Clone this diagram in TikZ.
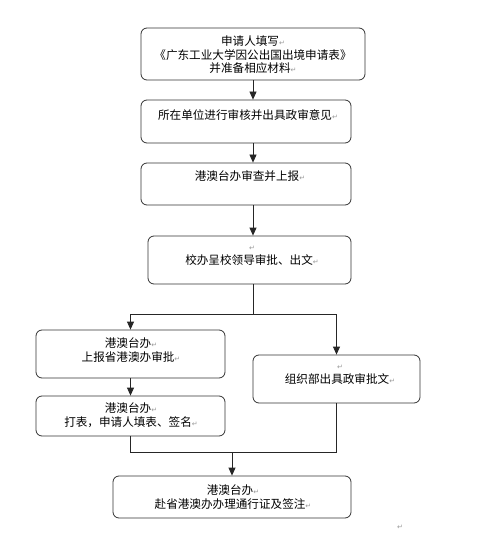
\documentclass[tikz,border=0pt]{standalone}
\usepackage{fontspec}
\newfontfamily\cjk{Noto Sans CJK SC}
\newfontfamily\symfont{DejaVu Sans}
\usetikzlibrary{arrows.meta}
\newcommand\ret{{\symfont\color{black!40}\fontsize{7}{8}\selectfont ↵}}
\begin{document}
\begin{tikzpicture}[x=1pt,y=1pt,
  box/.style={draw=black!80, rounded corners=6pt, line width=0.8pt, inner sep=0pt},
  txt/.style={font=\cjk\fontsize{11.6}{13.5}\selectfont, align=center, inner sep=0pt},
  arr/.style={-{Triangle[length=8pt,width=7pt]}, line width=0.8pt, draw=black!85},
  ln/.style={line width=0.8pt, draw=black!85}]
\path[use as bounding box, fill=white] (0,0) rectangle (479,-534);
% boxes
\node[box, minimum width=224pt, minimum height=52pt] (b1) at (253,-54) {};
\node[box, minimum width=210pt, minimum height=43pt] (b2) at (246,-121.5) {};
\node[box, minimum width=210pt, minimum height=42pt] (b3) at (246,-184) {};
\node[box, minimum width=203pt, minimum height=48pt] (b4) at (249.5,-260) {};
\node[box, minimum width=189pt, minimum height=48pt] (b5) at (130.5,-354) {};
\node[box, minimum width=167pt, minimum height=48pt] (b6) at (336.5,-379) {};
\node[box, minimum width=189pt, minimum height=40pt] (b7) at (130.5,-416) {};
\node[box, minimum width=238pt, minimum height=42pt] (b8) at (232,-497) {};
% texts
\node[txt] (t1) at (253,-55) {申请人填写\ret\\《广东工业大学因公出国出境申请表》\\并准备相应材料\ret};
\node[txt] (t2) at (248,-115) {所在单位进行审核并出具政审意见\ret};
\node[txt] (t3) at (250,-176) {港澳台办审查并上报\ret};
\node[txt] (t4) at (252,-256) {\ret\\校办呈校领导审批、出文\ret};
\node[txt] (t5) at (131,-350) {港澳台办\ret\\上报省港澳办审批\ret};
\node[txt] (t6) at (340,-375) {\ret\\组织部出具政审批文\ret};
\node[txt] (t7) at (131,-415) {港澳台办\ret\\打表，申请人填表、签名\ret};
\node[txt] (t8) at (233,-497) {港澳台办\ret\\赴省港澳办办理通行证及签注\ret};
\node[inner sep=0pt] (t9) at (400,-527) {\ret};
% connectors
\draw[arr] (b1.south) -- (b1.south |- b2.north);
\draw[arr] (b1.south |- b2.south) -- (b1.south |- b3.north);
\draw[arr] (b1.south |- b3.south) -- (b1.south |- b4.north);
\coordinate (j1) at (253,-314);
\draw[ln] (b1.south |- b4.south) -- (j1);
\draw[arr] (j1) -| (b5.north);
\draw[arr] (j1) -| (b6.north);
\draw[arr] (b5.south) -- (b7.north);
\coordinate (j2) at (b8.north |- 0,-452);
\draw[ln] (b7.south) |- (j2);
\draw[ln] (b6.south) |- (j2);
\draw[arr] (j2) -- (b8.north);
\end{tikzpicture}
\end{document}
